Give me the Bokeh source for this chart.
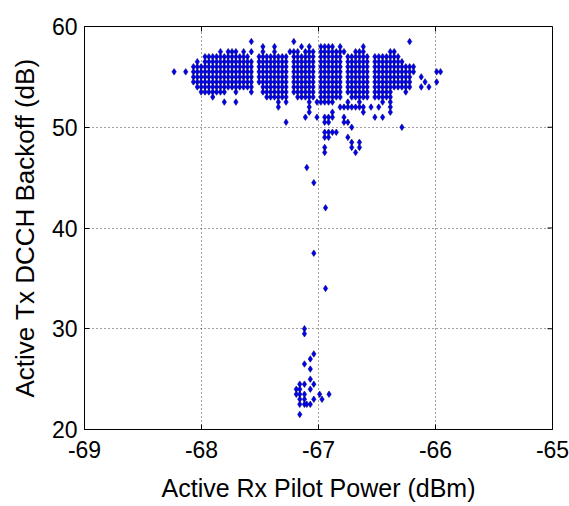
from bokeh.plotting import figure
from bokeh.models import Range1d, FixedTicker, ColumnDataSource
from bokeh.embed import file_html
from bokeh.resources import INLINE

# ---- data ----
# Upper cluster: quantised Rx pilot power grid (column index -> dBm), one string of occupied columns per backoff level
COL_X0 = -68.30      # dBm of column 0
COL_STEP = 0.033     # dBm per column (measurement quantisation)
cluster_y = [58.5, 58.0, 57.5, 57.0, 56.5, 56.0, 55.5, 55.0, 54.5, 54.0, 53.5, 53.0,
             52.5, 52.0, 51.5, 51.0, 50.5, 50.0, 49.5, 49.0, 48.5, 48.0, 47.5]
cluster_cols = [
    "22,33,63",
    "25,28,35,37,40-43,45,51",
    "14,16-18,20,22,25,28,32-34,36-38,40-46,49-51,58,59",
    "10-21,24-31,33-38,40-45,47-52,54-60",
    "8,10-22,24-31,33-38,40-45,47-52,54-61",
    "7-22,24-31,33-38,40-45,47-52,54-64",
    "2,5,7-22,24-31,33-38,40-45,47-52,54-64,70,71",
    "7-22,24-31,33-38,40-45,47-52,54-63,66",
    "7-22,24-31,33-38,40-45,47-52,54-63,67,70",
    "8-22,25-31,33-38,40-45,47-52,54-63,66,68",
    "9-15,18,22,25-31,33-38,40-45,47-52,54-58,62",
    "12,26-31,34-38,40-45,48-52,54-58",
    "15,18,29,31,37,39-43,47,50,56,58",
    "29,37,45-51,53,55,58",
    "37,43,51,58",
    "36,39,41-43,46,54,56",
    "31,41,42,46,47",
    "48,61",
    "41-44",
    "41,42,47",
    "48,50",
    "41,48,50",
    "41,49",
]

# Lower tail (individual points)
tail_x = [-67.10, -67.04, -66.94, -67.04, -66.94, -67.12, -67.12, -67.04, -67.07, -67.12,
          -67.07, -67.07, -67.04, -67.16, -67.12, -67.07, -67.19, -67.16, -67.19, -67.16,
          -67.12, -66.99, -66.91, -67.16, -67.12, -67.04, -66.97, -67.16, -67.12, -67.10,
          -67.07, -67.16]
tail_y = [46.0, 44.5, 42.0, 37.5, 34.0, 30.0, 29.5, 27.5, 27.0, 26.5,
          26.0, 25.0, 24.5, 24.5, 24.5, 24.0, 24.0, 24.0, 23.5, 23.5,
          23.5, 23.5, 23.5, 23.0, 23.0, 23.0, 23.0, 22.5, 22.5, 22.5,
          22.5, 21.5]

x_ticks = [-69, -68, -67, -66, -65]
y_ticks = [20, 30, 40, 50, 60]
x_tick_labels = ["-69", "-68", "-67", "-66", "-65"]
y_tick_labels = ["20", "30", "40", "50", "60"]
x_label = "Active Rx Pilot Power (dBm)"
y_label = "Active Tx DCCH Backoff (dB)"

# ---- decode the cluster strings ----
xs, ys = [], []
for yv, spec in zip(cluster_y, cluster_cols):
    for part in spec.split(","):
        if "-" in part:
            a, b = part.split("-")
            idx = range(int(a), int(b) + 1)
        else:
            idx = [int(part)]
        for i in idx:
            xs.append(COL_X0 + COL_STEP * i)
            ys.append(yv)
xs += tail_x
ys += tail_y
src = ColumnDataSource(dict(x=xs, y=ys))

FONT = "Liberation Sans"
X0, X1, Y0, Y1 = x_ticks[0], x_ticks[-1], y_ticks[0], y_ticks[-1]

p = figure(width=569, height=506, output_backend="svg", toolbar_location=None,
           x_range=Range1d(X0, X1), y_range=Range1d(Y0, Y1),
           min_border_left=84, min_border_right=17, min_border_top=26, min_border_bottom=77,
           background_fill_color="white", border_fill_color="white")

p.outline_line_color = "black"
p.outline_line_width = 1
p.outline_line_alpha = 1

for ax, ticks, labs in ((p.xaxis[0], x_ticks, x_tick_labels), (p.yaxis[0], y_ticks, y_tick_labels)):
    ax.ticker = FixedTicker(ticks=ticks)
    ax.major_label_overrides = {t: s for t, s in zip(ticks, labs)}
    ax.major_tick_in = 5
    ax.major_tick_out = 0
    ax.minor_tick_line_color = None
    ax.axis_line_color = "black"
    ax.major_tick_line_color = "black"
    ax.major_label_text_font = FONT
    ax.major_label_text_font_size = "23px"
    ax.major_label_text_color = "black"
    ax.axis_label_text_font = FONT
    ax.axis_label_text_font_style = "normal"
    ax.axis_label_text_color = "black"

p.xaxis[0].axis_label = x_label
p.yaxis[0].axis_label = y_label
p.xaxis[0].axis_label_text_font_size = "25px"
p.yaxis[0].axis_label_text_font_size = "26px"
p.xaxis[0].major_label_standoff = 11
p.xaxis[0].axis_label_standoff = 13
p.yaxis[0].major_label_standoff = 7
p.yaxis[0].axis_label_standoff = 9

p.xgrid.ticker = FixedTicker(ticks=x_ticks[1:-1])
p.ygrid.ticker = FixedTicker(ticks=y_ticks[1:-1])
for g in (p.xgrid[0], p.ygrid[0]):
    g.grid_line_color = "black"
    g.grid_line_alpha = 0.75
    g.grid_line_dash = "1 3"
    g.grid_line_width = 1

# inward tick marks on the top and right frame edges (Matlab "box on" style), ~5 px long
tick_len_y = (Y1 - Y0) * 5 / 403.0
tick_len_x = (X1 - X0) * 5 / 467.0
p.segment(x0=x_ticks, y0=[Y1] * len(x_ticks), x1=x_ticks, y1=[Y1 - tick_len_y] * len(x_ticks),
          line_color="black", line_width=1)
p.segment(x0=[X1] * len(y_ticks), y0=y_ticks, x1=[X1 - tick_len_x] * len(y_ticks), y1=y_ticks,
          line_color="black", line_width=1)

p.scatter("x", "y", source=src, marker="diamond", size=6.5,
          fill_color="#0000f0", line_color="#00007a", line_width=0.6)

open("out.html", "w").write(file_html(p, INLINE))
